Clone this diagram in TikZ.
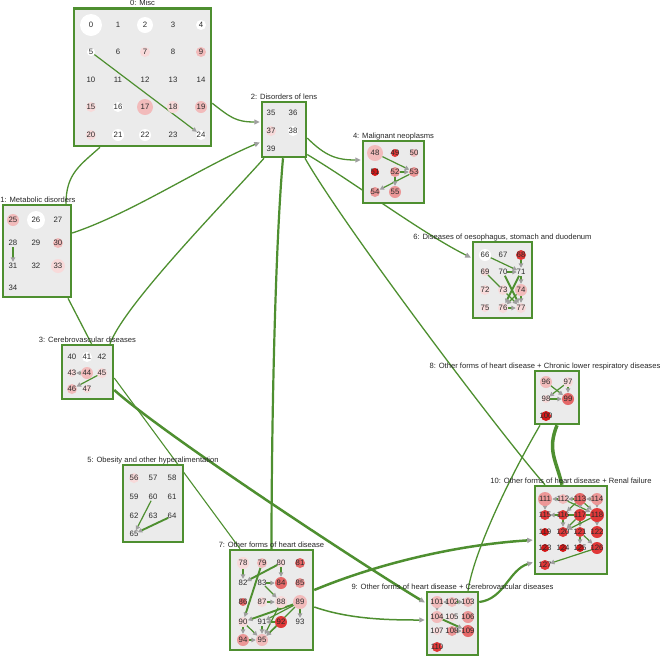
\documentclass[tikz,border=0pt]{standalone}
\usepackage{fontspec}
\setmainfont{Liberation Sans}
\usepackage{xcolor}
\usetikzlibrary{arrows.meta,calc}

\definecolor{edgegreen}{HTML}{4E8F30}
\definecolor{boxgrey}{HTML}{EBEBEB}
\definecolor{pinkA}{HTML}{F8DADA}
\definecolor{pinkB}{HTML}{F2BBBB}
\definecolor{pinkC}{HTML}{EC9797}
\definecolor{pinkD}{HTML}{E56868}
\definecolor{redA}{HTML}{E03838}
\definecolor{redB}{HTML}{D41818}
\definecolor{numtext}{HTML}{2A2A2A}
\colorlet{tipgrey}{gray!75}

\pgfdeclarelayer{links}
\pgfdeclarelayer{boxes}
\pgfdeclarelayer{inner}
\pgfsetlayers{links,boxes,inner,main}

\tikzset{
	cluster/.style={draw=edgegreen,line width=2.5pt,fill=boxgrey,inner sep=0pt},
	clusterlabel/.style={anchor=base,inner sep=0pt,font=\fontsize{7.6}{8}\selectfont,text=black!85},
	vertex/.style={circle,inner sep=0pt,draw=none},
	vlabel/.style={inner sep=0pt,font=\fontsize{7.8}{8}\selectfont,text=numtext},
	grouplink/.style={draw=edgegreen,line width=1.3pt},
	arrowed/.style={-{Triangle[length=5.5pt,width=5pt,color=tipgrey]},shorten >=1pt},
	inlink/.style={draw=edgegreen,line width=1.2pt,-{Triangle[length=4.5pt,width=4.5pt,color=tipgrey]}},
}

\begin{document}
\begin{tikzpicture}[x=1pt,y=-1pt]
	\useasboundingbox (0,0) rectangle (669,657);
	% groups
	\begin{pgfonlayer}{boxes}
		\node[cluster,minimum width=137,minimum height=137.5] (b0) at (142.5,77.25) {};
		\node[cluster,minimum width=68,minimum height=92] (b1) at (37,251) {};
		\node[cluster,minimum width=44,minimum height=55] (b2) at (284,129.5) {};
		\node[cluster,minimum width=51,minimum height=54] (b3) at (87.5,372) {};
		\node[cluster,minimum width=61,minimum height=62] (b4) at (393.5,172) {};
		\node[cluster,minimum width=60,minimum height=77] (b5) at (153,503.5) {};
		\node[cluster,minimum width=59,minimum height=76] (b6) at (502.5,280) {};
		\node[cluster,minimum width=83,minimum height=100] (b7) at (271.5,600) {};
		\node[cluster,minimum width=44,minimum height=53] (b8) at (557,397.5) {};
		\node[cluster,minimum width=51,minimum height=63] (b9) at (452.5,623.5) {};
		\node[cluster,minimum width=72,minimum height=88] (b10) at (571,530) {};
	\end{pgfonlayer}
	\node[clusterlabel] (t0) at ([yshift=1.5]b0.north) {0: Misc};
	\node[clusterlabel] (t1) at ([xshift=1,yshift=1.5]b1.north) {1: Metabolic disorders};
	\node[clusterlabel] (t2) at ([yshift=1.5]b2.north) {2: Disorders of lens};
	\node[clusterlabel] (t3) at ([yshift=1.5]b3.north) {3: Cerebrovascular diseases};
	\node[clusterlabel] (t4) at ([yshift=1.5]b4.north) {4: Malignant neoplasms};
	\node[clusterlabel] (t5) at ([yshift=1.5]b5.north) {5: Obesity and other hyperalimentation};
	\node[clusterlabel] (t6) at ([yshift=1.5]b6.north) {6: Diseases of oesophagus, stomach and duodenum};
	\node[clusterlabel] (t7) at ([yshift=1.5]b7.north) {7: Other forms of heart disease};
	\node[clusterlabel] (t8) at ([xshift=-12,yshift=1.5]b8.north) {8: Other forms of heart disease + Chronic lower respiratory diseases};
	\node[clusterlabel] (t9) at ([yshift=1.5]b9.north) {9: Other forms of heart disease + Cerebrovascular diseases};
	\node[clusterlabel] (t10) at ([yshift=1.5]b10.north) {10: Other forms of heart disease + Renal failure};

	% vertices: number/x/y/colour/radius
	\foreach \n/\x/\y/\c/\r in {
		0/91/25/white/11, 1/118/25/none/4, 2/145/25/white/8, 3/173/25/none/4, 4/201/25/white/5,
		5/91/52/white/4, 6/118/52/none/4, 7/145/52/pinkA/5, 8/173/52/none/4, 9/201/52/pinkB/5,
		10/91/80/none/4, 11/118/80/none/4, 12/145/80/none/4, 13/173/80/none/4, 14/201/80/none/4,
		15/91/107/pinkA/5, 16/118/107/white/5, 17/145/107/pinkB/8, 18/173/107/pinkA/6, 19/201/107/pinkB/6,
		20/91/135/pinkA/5, 21/118/135/white/6, 22/145/135/white/6, 23/173/135/none/4, 24/201/135/white/5,
		25/13/220/pinkB/6, 26/36/220/white/9, 27/58/220/none/4,
		28/13/243/none/4, 29/36/243/none/4, 30/58/243/pinkB/5,
		31/13/266/none/4, 32/36/266/none/4, 33/58/266/pinkA/7, 34/13/288/none/4,
		35/271/113/none/4, 36/293/113/none/4, 37/271/131/pinkA/5, 38/293/131/white/5, 39/271/149/none/4,
		40/72/357/none/4, 41/87/357/white/5, 42/102/357/none/4, 43/72/373/pinkA/4,
		44/87/373/pinkB/6, 45/102/373/pinkA/5, 46/72/389/pinkB/5, 47/87/389/pinkA/4,
		48/375/153/pinkB/8, 49/395/153/redA/4, 50/414/153/pinkB/4, 51/375/172/redB/4,
		52/395/172/pinkC/5, 53/414/172/pinkC/5, 54/375/192/pinkC/5, 55/395/192/pinkC/6,
		56/134/478/pinkA/5, 57/153/478/none/4, 58/172/478/none/4, 59/134/497/none/4, 60/153/497/none/4,
		61/172/497/none/4, 62/134/516/none/4, 63/153/516/none/4, 64/172/516/none/4, 65/134/534/none/4,
		66/485/255/white/6, 67/503/255/none/4, 68/521/255/redA/5, 69/485/272/pinkA/4,
		70/503/272/none/4, 71/521/272/none/4, 72/485/290/pinkA/5, 73/503/290/pinkA/5,
		74/521/290/pinkB/6, 75/485/308/pinkA/4, 76/503/308/pinkA/5, 77/521/308/pinkA/5,
		78/243/563/pinkA/6, 79/262/563/pinkB/5, 80/281/563/pinkA/4, 81/300/563/pinkD/5,
		82/243/583/none/4, 83/262/583/none/4, 84/281/583/pinkD/6, 85/300/583/pinkC/5,
		86/243/602/pinkD/4, 87/262/602/pinkA/5, 88/281/602/pinkA/6, 89/300/602/pinkB/7,
		90/243/622/pinkA/5, 91/262/622/none/4, 92/281/622/redA/6, 93/300/622/none/4,
		94/243/640/pinkC/6, 95/262/640/pinkB/6,
		96/546/382/pinkB/6, 97/568/382/pinkA/5, 98/546/399/pinkA/4, 99/568/399/pinkD/6, 100/546/416/redB/5,
		101/437/602/pinkB/6, 102/452/602/pinkB/5, 103/468/602/pinkB/5, 104/437/617/pinkB/6,
		105/452/617/pinkA/4, 106/468/617/pinkC/6, 107/437/631/pinkA/4, 108/452/631/pinkC/5,
		109/468/631/pinkD/6, 110/437/647/redA/5,
		111/545/499/pinkC/7, 112/563/499/pinkB/5, 113/580/499/pinkD/6, 114/597/499/pinkC/6,
		115/545/515/redA/5, 116/563/515/redA/5, 117/580/515/redA/6, 118/597/515/redA/7,
		119/545/532/redB/4, 120/563/532/redA/5, 121/580/532/redA/5, 122/597/532/redA/6,
		123/545/548/redB/4, 124/563/548/redB/4, 125/580/548/redB/4, 126/597/548/redA/6,
		127/545/565/redA/5}{
		\node[vertex,fill=\c,minimum size=2*\r] (n\n) at (\x,\y) {};
		\node[vlabel] at (n\n) {\n};
	}

	% edges inside the groups
	\begin{pgfonlayer}{inner}
		\foreach \a/\b in {5/24, 28/31, 44/43, 45/46, 48/53, 53/54, 52/55, 60/65,
			66/71, 70/71, 71/74, 74/77, 69/77, 76/77, 74/76,
			78/82, 80/84, 83/84, 83/88, 88/95, 89/91, 92/91, 89/93, 90/94,
			90/95, 91/95, 92/95, 94/95, 89/95,
			96/99, 97/98, 97/99, 102/101, 102/103, 101/104, 108/109,
			111/115, 112/111, 114/113, 113/116, 113/118, 112/118, 116/120, 117/120,
			114/118, 118/122, 117/121, 121/125, 121/126, 126/127, 118/120, 118/115}
			\draw[inlink] (n\a) -- (n\b);
		\foreach \a/\b in {52/53, 64/65, 68/71, 70/77, 71/76, 80/82, 79/90, 87/88,
			89/90, 98/99, 104/109, 113/112, 113/117}
			\draw[inlink,line width=1.9pt] (n\a) -- (n\b);
	\end{pgfonlayer}

	% edges between the groups
	\begin{pgfonlayer}{links}
		\draw[grouplink,arrowed] ([yshift=-26]b0.east) .. controls +(18,14) and +(-25,0) .. ([yshift=7.5]b2.west);
		\draw[grouplink] ([xshift=-42.5]b0.south) .. controls +(-20,18) and +(0,-30) .. ([xshift=29]b1.north);
		\draw[grouplink,arrowed] ([yshift=18]b1.east) .. controls +(60,-20) and +(-60,25) .. ([yshift=-12.5]b2.west);
		\draw[grouplink] ([xshift=31]b1.south) -- ([xshift=4]b3.north);
		\draw[grouplink] ([xshift=-20]b2.south) .. controls +(-40,45) and +(15,-40) .. ([xshift=22.5]b3.north);
		\draw[grouplink,arrowed] ([yshift=-8.5]b2.east) .. controls +(18,18) and +(-25,0) .. ([yshift=12]b4.west);
		\draw[grouplink,arrowed] ([yshift=-25]b2.east) .. controls +(50,30) and +(-50,-25) .. ([yshift=22]b6.west);
		\draw[grouplink,line width=2.2pt] ([xshift=-1]b2.south) .. controls +(-8,90) and +(0,-120) .. (b7.north);
		\draw[grouplink] ([xshift=21]b2.south) .. controls +(40,70) and +(-40,-45) .. ([xshift=-26]b10.north);
		\draw[grouplink,line width=1.1pt] ([yshift=-6]b3.east) -- ([xshift=-31.5]b7.north);
		\draw[grouplink,arrowed,line width=2.5pt] ([yshift=-18]b3.east) .. controls +(50,45) and +(-60,-36) .. ([yshift=20.5]b9.west);
		\draw[grouplink,arrowed,line width=2.5pt] ([yshift=10]b7.east) .. controls +(60,-25) and +(-80,5) .. ([yshift=-10]b10.west);
		\draw[grouplink,arrowed,line width=1.5pt] ([yshift=-7]b7.east) .. controls +(35,12) and +(-40,0) .. ([yshift=3.5]b9.west);
		\draw[grouplink,arrowed,line width=2.2pt] ([yshift=21.5]b9.east) .. controls +(25,-3) and +(-25,8) .. ([yshift=-32]b10.west);
		\draw[grouplink,line width=3.5pt] (b8.south) .. controls +(-10,25) and +(-6,-25) .. ([xshift=-9]b10.north);
		\draw[grouplink] ([xshift=-17]b8.south) .. controls +(-35,60) and +(5,-35) .. ([xshift=15.5]b9.north);
	\end{pgfonlayer}
\end{tikzpicture}
\end{document}
